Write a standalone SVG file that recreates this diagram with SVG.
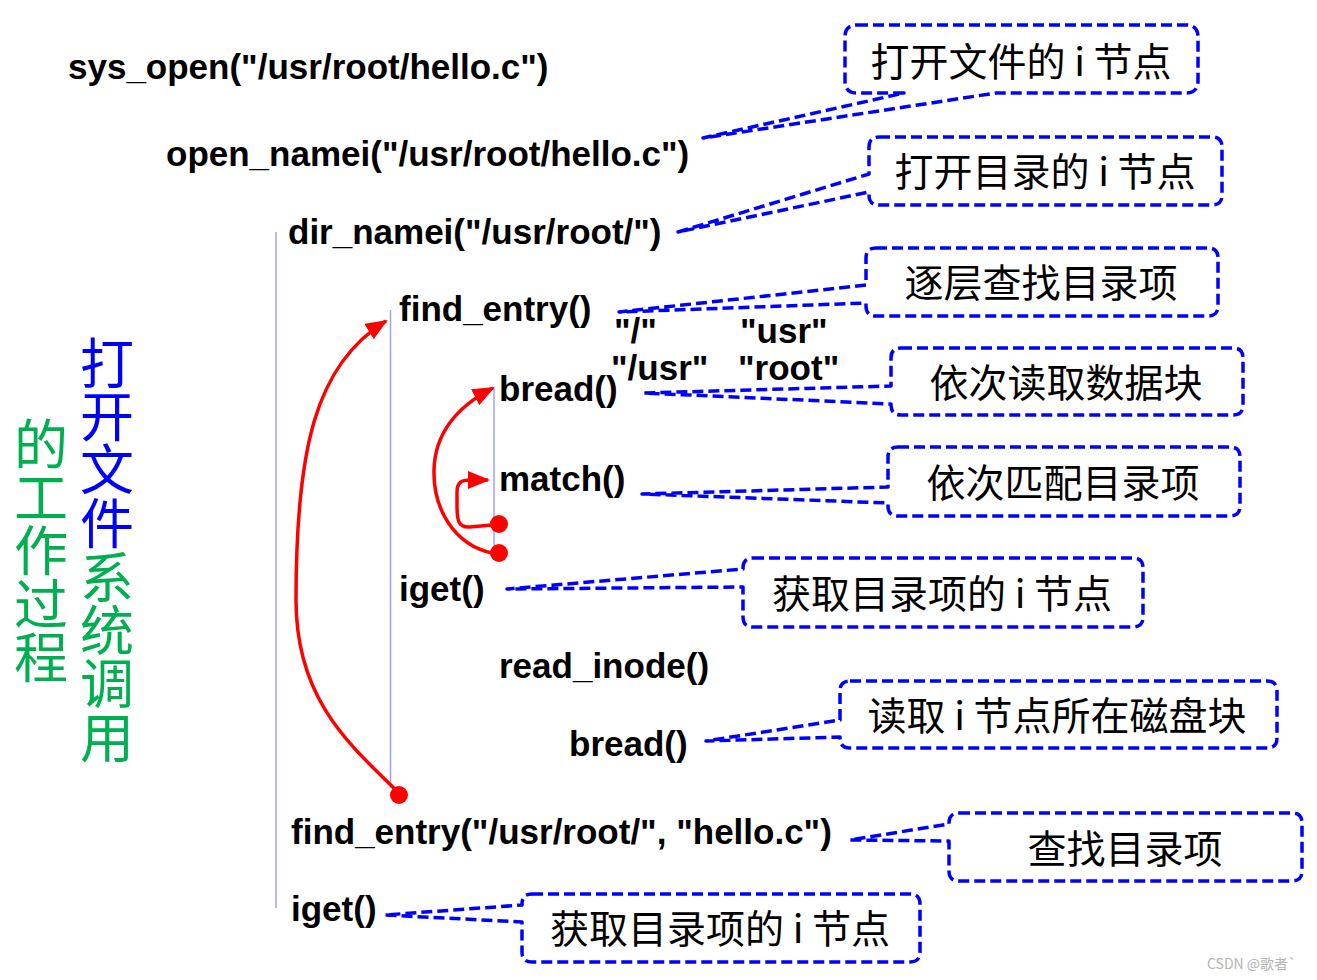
<svg xmlns="http://www.w3.org/2000/svg" width="1317" height="980" viewBox="0 0 1317 980">
<style>
.fn{font-family:"Liberation Sans",Arial,sans-serif;font-weight:bold;font-size:35px;fill:#000}
.cl{fill:#fff;stroke:#0000ff;stroke-width:3.5;stroke-dasharray:11 5;stroke-linejoin:round}
.ct{font-family:"Noto Sans CJK SC",sans-serif;font-size:39px;fill:#000;text-anchor:middle}
.vt{font-family:"Noto Sans CJK SC",sans-serif;font-size:54px;writing-mode:vertical-rl;letter-spacing:-0.6px}
.guide{stroke:#a0a0ff;stroke-width:1.5;fill:none}
.red{stroke:#ff0000;stroke-width:3.5;fill:none}
</style>
<defs>
<marker id="ah" markerUnits="userSpaceOnUse" markerWidth="22" markerHeight="18" refX="20" refY="9" orient="auto" viewBox="0 0 22 18">
<path d="M0,0 L22,9 L0,18 z" fill="#ff0000"/>
</marker>
</defs>
<rect width="1317" height="980" fill="#fff"/>

<g id="title">
<text class="vt" x="107" y="336"><tspan fill="#0000ff">打开文件</tspan><tspan fill="#00b050">系统调用</tspan></text>
<text class="vt" x="41" y="417" fill="#00b050">的工作过程</text>
</g>

<g id="guides">
<line class="guide" x1="276" y1="232" x2="276" y2="908"/>
<line class="guide" x1="390.5" y1="310" x2="390.5" y2="788"/>
<line class="guide" x1="494" y1="388" x2="494" y2="555"/>
</g>

<g id="functions">
<text id="f-sys-open" class="fn" x="68" y="79">sys_open("/usr/root/hello.c")</text>
<text id="f-open-namei" class="fn" x="166" y="166">open_namei("/usr/root/hello.c")</text>
<text id="f-dir-namei" class="fn" x="288" y="244">dir_namei("/usr/root/")</text>
<text id="f-find-entry" class="fn" x="399" y="321">find_entry()</text>
<text id="f-bread" class="fn" x="499" y="401">bread()</text>
<text id="f-match" class="fn" x="499" y="491">match()</text>
<text id="f-iget" class="fn" x="399" y="601">iget()</text>
<text id="f-read-inode" class="fn" x="499" y="678">read_inode()</text>
<text id="f-bread2" class="fn" x="569" y="756">bread()</text>
<text id="f-find-entry2" class="fn" x="291" y="844">find_entry("/usr/root/", "hello.c")</text>
<text id="f-iget2" class="fn" x="291" y="921">iget()</text>
<text class="fn" x="614" y="343">"/"</text>
<text class="fn" x="740" y="343">"usr"</text>
<text class="fn" x="611" y="380">"/usr"</text>
<text class="fn" x="738" y="380">"root"</text>
</g>

<g id="connectors">
<path class="red" d="M399,793 C350,745 296,700 296,600 C296,450 315,365 386,321" marker-end="url(#ah)"/>
<path class="red" d="M492,553 C455,545 433,510 434,470 C435,430 460,405 493,388" marker-end="url(#ah)"/>
<path class="red" d="M492,525 L470,527 C458,528 457,520 457,505 L457,492 C457,482 462,480 470,480 L488,480" marker-end="url(#ah)"/>
<circle cx="399" cy="795" r="9" fill="#ff0000"/>
<circle cx="499" cy="524" r="9" fill="#ff0000"/>
<circle cx="499" cy="553" r="9" fill="#ff0000"/>
</g>

<g id="callout1">
<path class="cl" d="M857,25 H1186 Q1198,25 1198,37 V81 Q1198,93 1186,93 H996 L703,138 L904,93 H857 Q845,93 845,81 V37 Q845,25 857,25 Z"/>
<text class="ct" x="1021" y="76">打开文件的 i 节点</text>
</g>
<g id="callout2">
<path class="cl" d="M879,137 H1212 Q1222,137 1222,147 V195 Q1222,205 1212,205 H879 Q869,205 869,195 V192 L678,232 L869,174 V147 Q869,137 879,137 Z"/>
<text class="ct" x="1045" y="186">打开目录的 i 节点</text>
</g>
<g id="callout3">
<path class="cl" d="M876,248 H1208 Q1218,248 1218,258 V306 Q1218,316 1208,316 H876 Q866,316 866,306 V303 L619,312 L866,285 V258 Q866,248 876,248 Z"/>
<text class="ct" x="1041" y="297">逐层查找目录项</text>
</g>
<g id="callout4">
<path class="cl" d="M901,348 H1233 Q1243,348 1243,358 V405 Q1243,415 1233,415 H901 Q891,415 891,405 V404 L644,393 L891,386 V358 Q891,348 901,348 Z"/>
<text class="ct" x="1066" y="397">依次读取数据块</text>
</g>
<g id="callout5">
<path class="cl" d="M898,447 H1230 Q1240,447 1240,457 V506 Q1240,516 1230,516 H898 Q888,516 888,506 V503 L642,494 L888,487 V457 Q888,447 898,447 Z"/>
<text class="ct" x="1063" y="497">依次匹配目录项</text>
</g>
<g id="callout6">
<path class="cl" d="M753,558 H1133 Q1143,558 1143,568 V617 Q1143,627 1133,627 H753 Q743,627 743,617 V587 L507,589 L743,569 V568 Q743,558 753,558 Z"/>
<text class="ct" x="942" y="608">获取目录项的 i 节点</text>
</g>
<g id="callout7">
<path class="cl" d="M850,681 H1267 Q1277,681 1277,691 V738 Q1277,748 1267,748 H850 Q840,748 840,738 V737 L706,741 L840,720 V691 Q840,681 850,681 Z"/>
<text class="ct" x="1057" y="730">读取 i 节点所在磁盘块</text>
</g>
<g id="callout8">
<path class="cl" d="M959,813 H1292 Q1302,813 1302,823 V871 Q1302,881 1292,881 H959 Q949,881 949,871 V841 L850,840 L949,824 V823 Q949,813 959,813 Z"/>
<text class="ct" x="1125" y="863">查找目录项</text>
</g>
<g id="callout9">
<path class="cl" d="M532,894 H910 Q920,894 920,904 V952 Q920,962 910,962 H532 Q522,962 522,952 V922 L385,915 L522,905 V904 Q522,894 532,894 Z"/>
<text class="ct" x="720" y="943">获取目录项的 i 节点</text>
</g>

<text x="1207" y="969" font-family="Noto Sans CJK SC,sans-serif" font-size="14" fill="#b4b4b4">CSDN @歌者`</text>
</svg>
